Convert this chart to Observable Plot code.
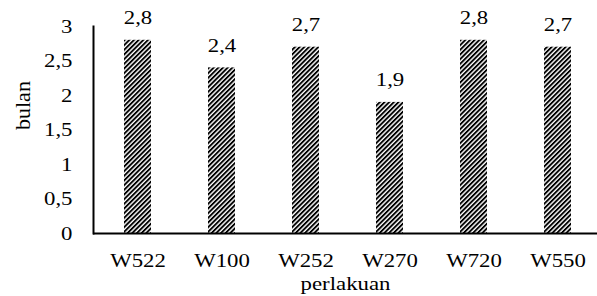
<!DOCTYPE html>
<html>
<head>
<meta charset="utf-8">
<script src="https://cdn.jsdelivr.net/npm/d3@7"></script>
<script src="https://cdn.jsdelivr.net/npm/@observablehq/plot@0.6"></script>
<style>
  html, body { margin: 0; padding: 0; background: #fff; }
  svg text { font-family: "Liberation Serif", serif !important; }
</style>
</head>
<body>
<div id="chart"></div>
<script>
const categories = ["W522", "W100", "W252", "W270", "W720", "W550"];
const values = [2.8, 2.4, 2.7, 1.9, 2.8, 2.7];
const yTicks = [0, 0.5, 1, 1.5, 2, 2.5, 3];
const xTitle = "perlakuan";
const yTitle = "bulan";

const data = categories.map((c, i) => ({ cat: c, val: values[i] }));
const fmt = d => String(d).replace(".", ",");
const FONT = "Liberation Serif";
const FS = 19;

const chart = Plot.plot({
  width: 597,
  height: 296,
  marginLeft: 93,
  marginRight: 0,
  marginTop: 26,
  marginBottom: 63,
  style: { fontFamily: FONT, fontSize: FS + "px", color: "#000", background: "#fff" },
  x: { domain: categories, range: [93, 602], paddingInner: 0.68, paddingOuter: 0.34 },
  y: { domain: [0, 3] },
  marks: [
    Plot.barY(data, { x: "cat", y: "val", fill: "url(#hatch)" }),
    Plot.axisY(yTicks, { tickSize: 0, tickPadding: 21, tickFormat: fmt, fontSize: FS, fontFamily: FONT, label: null }),
    Plot.axisX({ tickSize: 0, tickPadding: 20, fontSize: FS, fontFamily: FONT, label: null }),
    Plot.frame({ anchor: "left", stroke: "#000", strokeWidth: 2 }),
    Plot.ruleY([0], { stroke: "#000", strokeWidth: 2 }),
    Plot.text(data, { x: "cat", y: "val", text: d => fmt(d.val), dy: -22, fontSize: FS, fontFamily: FONT, fill: "#000" }),
    Plot.text([xTitle], { frameAnchor: "bottom", dy: 56, fontSize: FS, fontFamily: FONT, fill: "#000" }),
    Plot.text([yTitle], { frameAnchor: "left", dx: -71, rotate: -90, fontSize: 22, fontFamily: FONT, fill: "#000" })
  ]
});

const ns = "http://www.w3.org/2000/svg";
const defs = document.createElementNS(ns, "defs");
const P = 3.3;
const pat = document.createElementNS(ns, "pattern");
pat.setAttribute("id", "hatch");
pat.setAttribute("patternUnits", "userSpaceOnUse");
pat.setAttribute("width", P);
pat.setAttribute("height", P);
pat.setAttribute("patternTransform", "rotate(45)");
const bg = document.createElementNS(ns, "rect");
bg.setAttribute("width", P); bg.setAttribute("height", P); bg.setAttribute("fill", "#fff");
const st = document.createElementNS(ns, "rect");
st.setAttribute("width", 1.9); st.setAttribute("height", P); st.setAttribute("fill", "#000");
pat.appendChild(bg); pat.appendChild(st);
defs.appendChild(pat);
chart.insertBefore(defs, chart.firstChild);

// reference glyphs are horizontally wide: stretch horizontal texts about their anchor
const SX = 1.2;
chart.querySelectorAll("text").forEach(t => {
  const tr = t.getAttribute("transform") || "";
  if (tr.includes("rotate")) return;
  const x = +(t.getAttribute("x") || 0);
  t.setAttribute("transform", `${tr} translate(${x},0) scale(${SX},1) translate(${-x},0)`);
});

document.getElementById("chart").appendChild(chart);
</script>
</body>
</html>
